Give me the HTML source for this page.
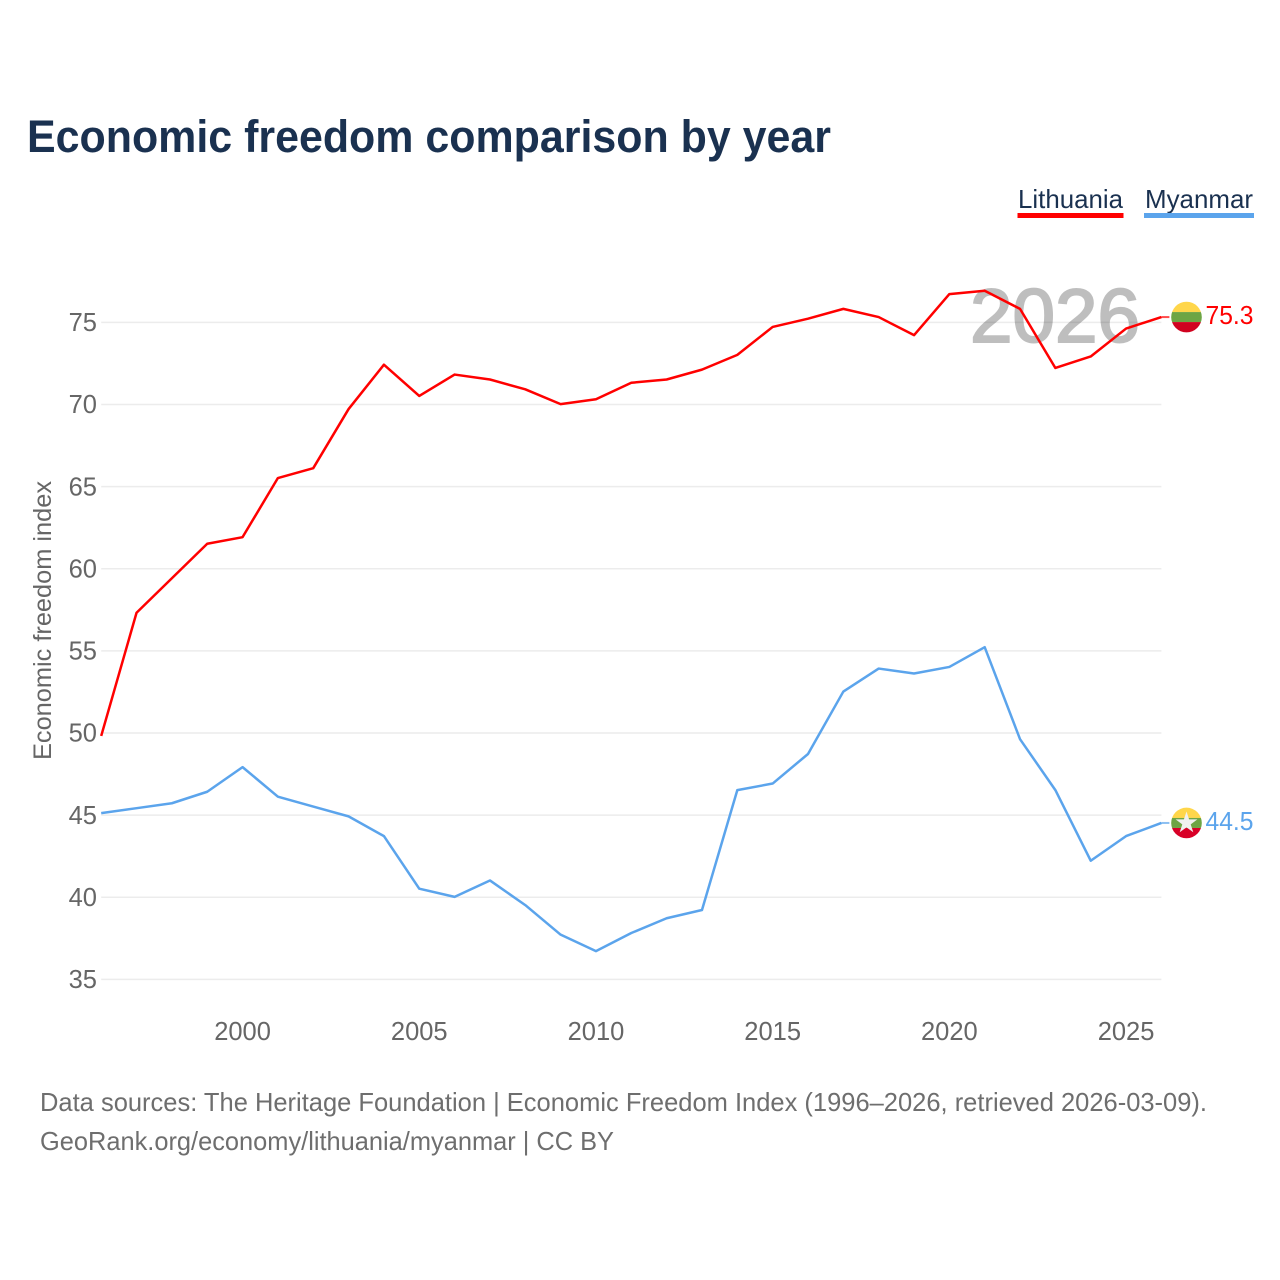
<!DOCTYPE html>
<html lang="en">
<head>
<meta charset="utf-8">
<title>Economic freedom comparison by year</title>
<style>
html,body{margin:0;padding:0;background:#fff}
svg{display:block}
text{font-family:"Liberation Sans",sans-serif}
</style>
</head>
<body>
<svg id="chart" xmlns="http://www.w3.org/2000/svg" width="1280" height="1280" viewBox="0 0 1280 1280">
  <rect width="1280" height="1280" fill="#fff"/>
  <text x="27" y="152" font-size="45" font-weight="700" fill="#1a3150" textLength="804" lengthAdjust="spacingAndGlyphs">Economic freedom comparison by year</text>
  <g>
    <g>
      <text x="1018" y="208" font-size="26" fill="#1a3150" textLength="105" lengthAdjust="spacingAndGlyphs">Lithuania</text>
      <rect x="1017.5" y="213" width="106" height="5" fill="#ff0000"/>
    </g>
    <g>
      <text x="1145" y="208" font-size="26" fill="#1a3150" textLength="108" lengthAdjust="spacingAndGlyphs">Myanmar</text>
      <rect x="1144" y="213" width="110" height="5" fill="#5ba4ec"/>
    </g>
  </g>
  <text transform="translate(51,760) rotate(-90)" font-size="25" fill="#666" textLength="279" lengthAdjust="spacingAndGlyphs">Economic freedom index</text>
  <g id="grid"></g>
  <g id="yticks"></g>
  <g id="xticks"></g>
  <text x="970" y="342" font-size="76" fill="#000" stroke="#000" stroke-width="2" opacity="0.25" textLength="170" lengthAdjust="spacingAndGlyphs">2026</text>
  <g id="series"></g>
  <g>
    <text x="40" y="1111" font-size="26" fill="#6e6e6e" textLength="1167" lengthAdjust="spacingAndGlyphs">Data sources: The Heritage Foundation | Economic Freedom Index (1996–2026, retrieved 2026-03-09).</text>
    <text x="40" y="1150" font-size="26" fill="#6e6e6e" textLength="574" lengthAdjust="spacingAndGlyphs">GeoRank.org/economy/lithuania/myanmar | CC BY</text>
  </g>
</svg>
<script>
const years = [1996,1997,1998,1999,2000,2001,2002,2003,2004,2005,2006,2007,2008,2009,2010,2011,2012,2013,2014,2015,2016,2017,2018,2019,2020,2021,2022,2023,2024,2025,2026];
const lithuaniaValues = [49.8,57.3,59.4,61.5,61.9,65.5,66.1,69.7,72.4,70.5,71.8,71.5,70.9,70.0,70.3,71.3,71.5,72.1,73.0,74.7,75.2,75.8,75.3,74.2,76.7,76.9,75.8,72.2,72.9,74.6,75.3];
const myanmarValues = [45.1,45.4,45.7,46.4,47.9,46.1,45.5,44.9,43.7,40.5,40.0,41.0,39.5,37.7,36.7,37.8,38.7,39.2,46.5,46.9,48.7,52.5,53.9,53.6,54.0,55.2,49.6,46.5,42.2,43.7,44.5];
const yTickValues = [35,40,45,50,55,60,65,70,75];
const xTickValues = [2000,2005,2010,2015,2020,2025];

const NS = 'http://www.w3.org/2000/svg';
const xScale = function (year) { return 101.2 + (year - 1996) * 35.34; };
const yScale = function (value) { return 979 - (value - 35) * 16.425; };
const make = function (tag, parent) {
  const el = document.createElementNS(NS, tag);
  parent.appendChild(el);
  return el;
};

const grid = document.getElementById('grid');
const yticks = document.getElementById('yticks');
const xticks = document.getElementById('xticks');
const seriesLayer = document.getElementById('series');

yTickValues.forEach(function (value) {
  const line = make('line', grid);
  
  
  line.setAttribute('x1', xScale(1996));
  line.setAttribute('x2', xScale(2026));
  line.setAttribute('y1', yScale(value) + 0.4);
  line.setAttribute('y2', yScale(value) + 0.4);
  line.setAttribute('stroke', '#ececec');
  line.setAttribute('stroke-width', '1.5');

  const label = make('text', yticks);
  
  
  label.setAttribute('x', 97);
  label.setAttribute('y', yScale(value) + 9);
  label.setAttribute('text-anchor', 'end');
  label.setAttribute('font-size', '25.5');
  label.setAttribute('fill', '#666');
  label.textContent = value;
});

xTickValues.forEach(function (year) {
  const label = make('text', xticks);
  
  
  label.setAttribute('x', xScale(year));
  label.setAttribute('y', 1040);
  label.setAttribute('text-anchor', 'middle');
  label.setAttribute('font-size', '25.5');
  label.setAttribute('fill', '#666');
  label.textContent = year;
});

const drawSeries = function (slug, values, color) {
  const group = make('g', seriesLayer);
  
  

  const path = make('path', group);
  
  
  path.setAttribute('d', values.map(function (v, i) {
    return (i ? 'L' : 'M') + xScale(years[i]).toFixed(2) + ' ' + yScale(v).toFixed(2);
  }).join(' '));
  path.setAttribute('fill', 'none');
  path.setAttribute('stroke', color);
  path.setAttribute('stroke-width', '2.5');
  path.setAttribute('stroke-linejoin', 'round');

  const last = values[values.length - 1];
  const endX = xScale(years[years.length - 1]);
  const endY = yScale(last);

  const stub = make('line', group);
  
  
  stub.setAttribute('x1', endX);
  stub.setAttribute('x2', endX + 8);
  stub.setAttribute('y1', endY);
  stub.setAttribute('y2', endY);
  stub.setAttribute('stroke', color);
  stub.setAttribute('stroke-width', '2');
  stub.setAttribute('stroke-opacity', '0.7');

  const label = make('text', group);
  
  
  label.setAttribute('x', 1205.5);
  label.setAttribute('y', endY + 7);
  label.setAttribute('font-size', '25.5');
  label.setAttribute('fill', color);
  label.setAttribute('textLength', '48');
  label.setAttribute('lengthAdjust', 'spacingAndGlyphs');
  label.textContent = last.toFixed(1);

  const flag = make('g', group);
  
  
  flag.setAttribute('transform', 'translate(1186.5,' + endY + ')');
  return flag;
};

const drawStripes = function (flag, slug, red) {
  const clipId = 'clip-' + slug;
  const clip = make('clipPath', flag);
  clip.setAttribute('id', clipId);
  const clipCircle = make('circle', clip);
  clipCircle.setAttribute('r', '15.3');
  const stripes = [['#ffd64a', -16, 11, 'yellow'], ['#6da544', -5, 10, 'green'], [red, 5, 11, 'red']];
  stripes.forEach(function (stripe) {
    const rect = make('rect', flag);
    
    
    rect.setAttribute('x', -16);
    rect.setAttribute('y', stripe[1]);
    rect.setAttribute('width', 32);
    rect.setAttribute('height', stripe[2]);
    rect.setAttribute('fill', stripe[0]);
    rect.setAttribute('clip-path', 'url(#' + clipId + ')');
  });
};

const ltFlag = drawSeries('lithuania', lithuaniaValues, '#ff0000');
drawStripes(ltFlag, 'lithuania', '#d0021f');

const mmFlag = drawSeries('myanmar', myanmarValues, '#5ba4ec');
drawStripes(mmFlag, 'myanmar', '#d80027');
const star = make('polygon', mmFlag);


star.setAttribute('points', '0,-11.5 2.6,-3.6 10.9,-3.6 4.2,1.4 6.8,9.3 0,4.4 -6.8,9.3 -4.2,1.4 -10.9,-3.6 -2.6,-3.6');
star.setAttribute('fill', '#f0f0f0');
</script>
</body>
</html>
